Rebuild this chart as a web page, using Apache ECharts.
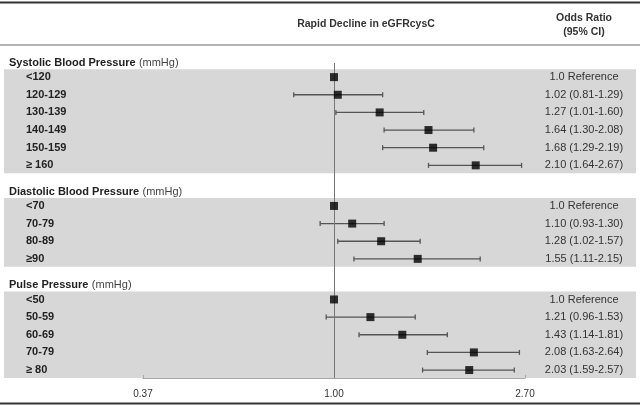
<!DOCTYPE html>
<html>
<head>
<meta charset="utf-8">
<script src="https://cdn.jsdelivr.net/npm/echarts@6/dist/echarts.min.js"></script>
<style>
html,body{margin:0;padding:0;background:#fff;}
#chart{width:640px;height:406px;}
</style>
</head>
<body>
<div id="chart"></div>
<script>
// ---- data ----
var sectionTitles = ['Systolic Blood Pressure', 'Diastolic Blood Pressure', 'Pulse Pressure'];
var sectionUnit = '(mmHg)';

var sysLabels = ['<120', '120-129', '130-139', '140-149', '150-159', '\u2265 160'];
var sysOR = [1.0, 1.02, 1.27, 1.64, 1.68, 2.10];
var sysLo = [null, 0.81, 1.01, 1.30, 1.29, 1.64];
var sysHi = [null, 1.29, 1.60, 2.08, 2.19, 2.67];

var diaLabels = ['<70', '70-79', '80-89', '\u226590'];
var diaOR = [1.0, 1.10, 1.28, 1.55];
var diaLo = [null, 0.93, 1.02, 1.11];
var diaHi = [null, 1.30, 1.57, 2.15];

var ppLabels = ['<50', '50-59', '60-69', '70-79', '\u2265 80'];
var ppOR = [1.0, 1.21, 1.43, 2.08, 2.03];
var ppLo = [null, 0.96, 1.14, 1.63, 1.59];
var ppHi = [null, 1.53, 1.81, 2.64, 2.57];

var xTickLabels = ['0.37', '1.00', '2.70'];
var headerTitle = 'Rapid Decline in eGFRcysC';
var headerOR = 'Odds Ratio\n(95% CI)';
var refText = '1.0 Reference';

// ---- build rows ----
var sections = [
  {labels: sysLabels, or: sysOR, lo: sysLo, hi: sysHi},
  {labels: diaLabels, or: diaOR, lo: diaLo, hi: diaHi},
  {labels: ppLabels, or: ppOR, lo: ppLo, hi: ppHi}
];
var SECTION_GAP = 2.3;
var rows = [], bands = [], titles = [];
var pos = 0;
sections.forEach(function (s, si) {
  var first = pos;
  titles.push([si, first - 0.8]);
  s.labels.forEach(function (lab, i) {
    var txt = s.lo[i] == null ? refText :
      s.or[i].toFixed(2) + ' (' + s.lo[i].toFixed(2) + '-' + s.hi[i].toFixed(2) + ')';
    rows.push({y: pos, label: lab, or: s.or[i], lo: s.lo[i], hi: s.hi[i], txt: txt});
    pos += 1;
  });
  bands.push([first, pos - 1]);
  pos = pos - 1 + SECTION_GAP;
});

var FONT = '"Liberation Sans", Arial, sans-serif';

var chart = echarts.init(document.getElementById('chart'));
chart.setOption({
  animation: false,
  grid: {left: 143, right: 115, top: 63, bottom: 28},
  xAxis: {
    type: 'log', logBase: Math.E,
    min: Math.exp(-1), max: Math.exp(1), interval: 1,
    splitLine: {show: false},
    axisLine: {show: true, onZero: false, lineStyle: {color: '#a8a8a8', width: 1.2}},
    axisTick: {show: true, inside: true, length: 3, lineStyle: {color: '#a8a8a8'}},
    axisLabel: {
      margin: 11, fontSize: 10, color: '#333', fontFamily: FONT,
      formatter: function (v, i) { return xTickLabels[i] != null ? xTickLabels[i] : ''; }
    }
  },
  yAxis: {type: 'value', inverse: true, min: -0.8, max: 17.05, show: false},
  graphic: [
    {type: 'line', shape: {x1: 0, y1: 2.5, x2: 640, y2: 2.5}, style: {stroke: '#333', lineWidth: 2}},
    {type: 'line', shape: {x1: 0, y1: 45, x2: 640, y2: 45}, style: {stroke: '#9a9a9a', lineWidth: 1.5}},
    {type: 'line', shape: {x1: 0, y1: 403.5, x2: 640, y2: 403.5}, style: {stroke: '#333', lineWidth: 2}},
    {type: 'text', x: 366, y: 24, style: {text: headerTitle, font: 'bold 10.5px ' + FONT, fill: '#333', align: 'center', verticalAlign: 'middle'}},
    {type: 'text', x: 584, y: 25, style: {text: headerOR, font: 'bold 10.5px ' + FONT, fill: '#333', align: 'center', verticalAlign: 'middle', lineHeight: 14}}
  ],
  series: [
    {
      type: 'custom', clip: false, z: 0, silent: true,
      data: bands,
      renderItem: function (params, api) {
        var y0 = api.coord([1, api.value(0)])[1];
        var y1 = api.coord([1, api.value(1)])[1];
        var h = api.size([0, 1])[1];
        return {type: 'rect', shape: {x: 4, y: y0 - h * 0.45, width: api.getWidth() - 8, height: y1 - y0 + h * 0.9},
          style: {fill: '#d7d7d7'}};
      }
    },
    {
      type: 'custom', clip: false, z: 3, silent: true,
      data: titles,
      renderItem: function (params, api) {
        var y = api.coord([1, api.value(1)])[1];
        return {type: 'text', x: 9, y: y, style: {
          text: '{b|' + sectionTitles[api.value(0)] + '} {n|' + sectionUnit + '}',
          verticalAlign: 'middle', align: 'left',
          rich: {
            b: {fontFamily: FONT, fontSize: 11, fontWeight: 'bold', fill: '#222'},
            n: {fontFamily: FONT, fontSize: 11, fill: '#444'}
          }
        }};
      }
    },
    {
      type: 'custom', clip: false, z: 3, silent: true,
      data: rows.map(function (r, i) { return [i, r.y]; }),
      renderItem: function (params, api) {
        var r = rows[api.value(0)];
        var y = api.coord([1, api.value(1)])[1];
        return {type: 'group', children: [
          {type: 'text', x: 26, y: y, style: {text: r.label, font: 'bold 11px ' + FONT, fill: '#222', verticalAlign: 'middle'}},
          {type: 'text', x: 584, y: y, style: {text: r.txt, font: '11px ' + FONT, fill: '#333', align: 'center', verticalAlign: 'middle'}}
        ]};
      }
    },
    {
      type: 'custom', clip: false, z: 4, silent: true,
      data: rows.filter(function (r) { return r.lo != null; }).map(function (r) { return [r.lo, r.hi, r.y]; }),
      renderItem: function (params, api) {
        var a = api.coord([api.value(0), api.value(2)]);
        var b = api.coord([api.value(1), api.value(2)]);
        var st = {stroke: '#555', lineWidth: 1.3};
        return {type: 'group', children: [
          {type: 'line', shape: {x1: a[0], y1: a[1], x2: b[0], y2: b[1]}, style: st},
          {type: 'line', shape: {x1: a[0], y1: a[1] - 2.5, x2: a[0], y2: a[1] + 2.5}, style: st},
          {type: 'line', shape: {x1: b[0], y1: b[1] - 2.5, x2: b[0], y2: b[1] + 2.5}, style: st}
        ]};
      }
    },
    {
      type: 'scatter', z: 5, silent: true,
      symbol: 'rect', symbolSize: 8,
      itemStyle: {color: '#000'},
      data: rows.map(function (r) { return [r.or, r.y]; }),
      markLine: {
        silent: true, symbol: 'none', label: {show: false},
        lineStyle: {color: '#777', width: 1, type: 'solid'},
        data: [{xAxis: 1}]
      }
    }
  ]
});
</script>
</body>
</html>
